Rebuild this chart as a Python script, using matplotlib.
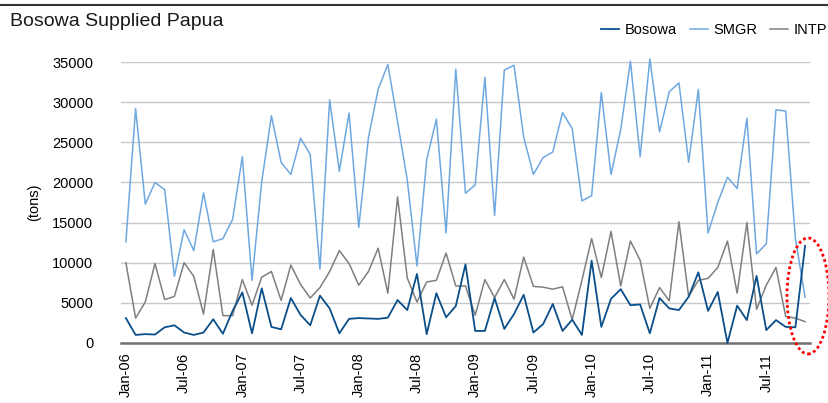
import matplotlib
matplotlib.use("Agg")
import matplotlib.pyplot as plt
from matplotlib.patches import Ellipse
from matplotlib.lines import Line2D

plt.rcParams['font.family'] = ['Liberation Sans', 'DejaVu Sans']

# monthly data, Jan-06 .. Nov-11
months = ['Jan', 'Feb', 'Mar', 'Apr', 'May', 'Jun', 'Jul', 'Aug', 'Sep', 'Oct', 'Nov', 'Dec']
labels = [f"{m}-{y:02d}" for y in range(6, 12) for m in months][:71]

bosowa = [3100, 1000, 1100, 1050, 1950, 2200, 1300, 1000, 1300, 2950, 1150, 4000,
          6300, 1200, 6800, 2000, 1700, 5600, 3500, 2200, 5900, 4300, 1200, 3000,
          3100, 3050, 3000, 3150, 5350, 4100, 8600, 1100, 6200, 3200, 4600, 9800,
          1500, 1500, 5600, 1750, 3600, 6000, 1300, 2350, 4850, 1500, 2900, 1000,
          10250, 2000, 5500, 6700, 4700, 4800, 1200, 5600, 4300, 4100, 5750, 8800,
          4000, 6350, 0, 4650, 2850, 8350, 1600, 2850, 2000, 1950, 12100]

smgr = [12600, 29200, 17300, 20000, 19100, 8300, 14100, 11500, 18700, 12600, 13000, 15400,
        23200, 7800, 20100, 28300, 22500, 21000, 25500, 23500, 9200, 30300, 21400, 28650,
        14400, 25600, 31600, 34700, 27600, 20300, 9600, 22800, 27900, 13700, 34100, 18650,
        19700, 33100, 15900, 34000, 34600, 25650, 21000, 23100, 23800, 28700, 26700, 17700,
        18350, 31200, 21000, 26600, 35100, 23200, 35400, 26300, 31300, 32400, 22500, 31600,
        13700, 17500, 20650, 19250, 28000, 11100, 12350, 29050, 28900, 13000, 5700]

intp = [10000, 3100, 5100, 9900, 5400, 5800, 10000, 8300, 3600, 11650, 3400, 3400,
        7900, 4700, 8200, 8900, 5300, 9700, 7300, 5600, 6900, 8900, 11500, 9900,
        7200, 8900, 11800, 6200, 18200, 8100, 5100, 7600, 7800, 11200, 7100, 7100,
        3450, 7900, 5650, 7900, 5450, 10700, 7050, 6950, 6700, 7000, 2900, 7800,
        13000, 8150, 13900, 7100, 12700, 10300, 4300, 6900, 5250, 15100, 5800, 7800,
        8050, 9400, 12700, 6200, 15000, 4200, 7200, 9400, 3300, 3100, 2650]

x = list(range(len(labels)))

fig = plt.figure(figsize=(8.29, 4.03), dpi=100)
ax = fig.add_axes([0.146, 0.149, 0.831, 0.697])

ax.plot(x, bosowa, color='#0B4F8A', lw=1.3, label='Bosowa', clip_on=False, zorder=4)
ax.plot(x, smgr, color='#6FA8E0', lw=1.1, label='SMGR', clip_on=False, zorder=3)
ax.plot(x, intp, color='#7F7F7F', lw=1.1, label='INTP', clip_on=False, zorder=2)

ax.set_xlim(-0.5, len(labels) - 0.5)
ax.set_ylim(0, 35000)
ax.set_yticks(range(0, 35001, 5000))
ax.grid(axis='y', color='#C8C8C8', lw=1)
ax.set_axisbelow(True)
for s in ['top', 'right', 'left']:
    ax.spines[s].set_visible(False)
ax.spines['bottom'].set_color('#707070')
ax.spines['bottom'].set_linewidth(1.8)

ax.set_xticks(x[::6])
ax.set_xticklabels(labels[::6], rotation=90, fontsize=10.5)
ax.tick_params(axis='x', length=0, pad=7)
ax.tick_params(axis='y', length=0, pad=20, labelsize=10.5)
ax.set_ylabel('(tons)', fontsize=10.5, labelpad=8)

fig.text(0.012, 1 - 22 / 403, 'Bosowa Supplied Papua', fontsize=14, color='#1a1a1a',
         va='center')
fig.legend(loc='center right', bbox_to_anchor=(1.005, 1 - 30 / 403), ncol=3, frameon=False,
           fontsize=10.5, handlelength=1.2, handletextpad=0.4, columnspacing=0.9,
           borderaxespad=0)

fig.add_artist(Line2D([0, 1], [1 - 5 / 403, 1 - 5 / 403], transform=fig.transFigure,
                      color='#333333', lw=1.5))
fig.add_artist(Ellipse((808 / 829, 1 - 296 / 403), 42 / 829, 116 / 403,
                       transform=fig.transFigure, fill=False, edgecolor='red',
                       lw=2, ls=(0, (1, 1))))

fig.savefig('out.png', dpi=100)
